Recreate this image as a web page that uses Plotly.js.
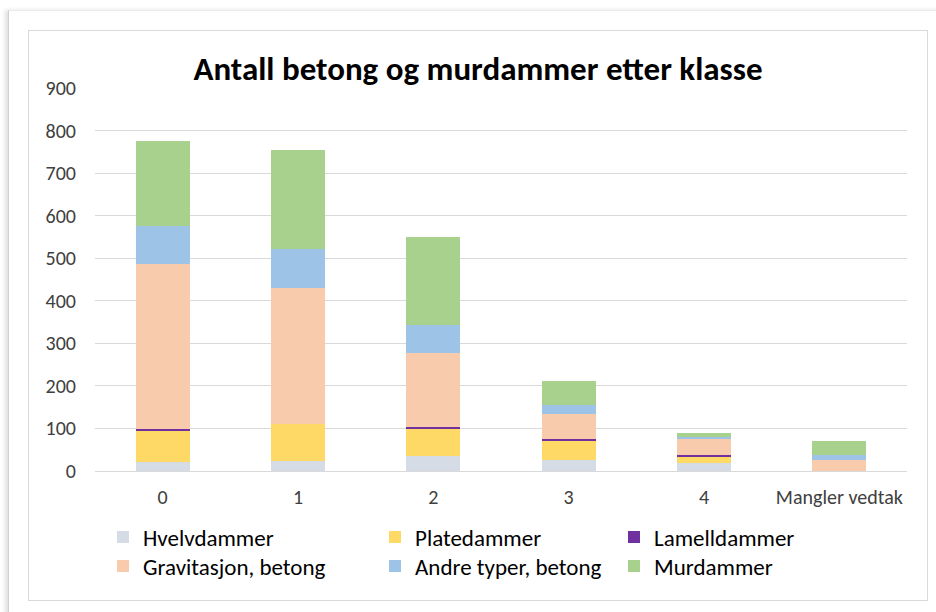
<!DOCTYPE html>
<html>
<head>
<meta charset="utf-8">
<script src="https://cdn.plot.ly/plotly-3.0.1.min.js"></script>
<style>
  html, body { margin:0; padding:0; width:936px; height:612px; overflow:hidden; background:#ffffff; }
  #card { position:absolute; left:8px; top:10px; width:940px; height:620px; background:#fff;
          border-left:1px solid #d0d0d0; border-top:1px solid #ececec; box-shadow:-3px 0 4px rgba(0,0,0,0.12); }
  #frame { position:absolute; left:28px; top:30px; width:898px; height:569px; border:1px solid #d9d9d9; background:#fff; }
  #chart { position:absolute; left:0; top:0; width:936px; height:612px; }
</style>
</head>
<body>
<div id="card"></div>
<div id="frame"></div>
<div id="chart"></div>
<script>
const categories = ["0", "1", "2", "3", "4", "Mangler vedtak"];
const seriesNames = ["Hvelvdammer", "Platedammer", "Lamelldammer", "Gravitasjon, betong", "Andre typer, betong", "Murdammer"];
const hvelvdammer   = [20, 23, 36, 27, 18, 0];
const platedammer   = [75, 88, 64, 45, 16, 0];
const lamelldammer  = [3, 0, 4, 3, 3, 0];
const gravitasjon   = [388, 320, 173, 60, 40, 25];
const andreTyper    = [90, 91, 65, 20, 2, 12];
const murdammer     = [200, 232, 207, 56, 11, 34];
const yTicks = [0, 100, 200, 300, 400, 500, 600, 700, 800, 900];

const seriesValues = [hvelvdammer, platedammer, lamelldammer, gravitasjon, andreTyper, murdammer];
const colors = ["#D6DCE5", "#FFD966", "#7030A0", "#F8CBAD", "#9DC3E6", "#A9D18E"];
const legendIds = ["legend", "legend2", "legend3", "legend4", "legend5", "legend6"];
// legend positions (pixels in container)
const legendPos = [[103, 537], [375, 537], [614, 537], [103, 566], [375, 566], [614, 566]];

const font = "Carlito, Calibri, 'Liberation Sans Narrow', 'Open Sans', sans-serif";
const W = 936, H = 612;

const traces = seriesNames.map((name, i) => ({
  type: "bar",
  name: name,
  x: categories,
  y: seriesValues[i],
  marker: { color: colors[i], line: { width: 0 } },
  width: 0.4,
  legend: legendIds[i],
  hoverinfo: "name+y"
}));

const layout = {
  width: W, height: H,
  paper_bgcolor: "rgba(0,0,0,0)",
  plot_bgcolor: "rgba(0,0,0,0)",
  barmode: "stack",
  margin: { l: 95, r: 29, t: 88, b: 141, autoexpand: false },
  font: { family: font, color: "#404040", size: 20 },
  title: {
    text: "<b>Antall betong og murdammer etter klasse</b>",
    font: { family: font, size: 33, color: "#000000" },
    x: 478 / W, xanchor: "center", xref: "container",
    y: 1 - 68 / H, yanchor: "middle", yref: "container"
  },
  xaxis: {
    type: "category",
    showgrid: false,
    showline: true, linecolor: "#d9d9d9", linewidth: 1,
    ticks: "", tickfont: { family: font, size: 20, color: "#404040" },
    ticklabelstandoff: 8
  },
  yaxis: {
    range: [0, 900],
    tickvals: yTicks,
    showgrid: true, gridcolor: "#d9d9d9", gridwidth: 1,
    zeroline: false, showline: false, ticks: "",
    tickfont: { family: font, size: 20, color: "#404040" },
    ticklabelstandoff: 18
  },
  showlegend: true
};

legendIds.forEach((id, i) => {
  layout[id] = {
    xref: "container", yref: "container",
    x: legendPos[i][0] / W, xanchor: "left",
    y: 1 - legendPos[i][1] / H, yanchor: "middle",
    font: { family: font, size: 23, color: "#000000" },
    bgcolor: "rgba(0,0,0,0)",
    traceorder: "normal",
    itemclick: false, itemdoubleclick: false
  };
});

Plotly.newPlot("chart", traces, layout, { displayModeBar: false, staticPlot: false });
</script>
</body>
</html>
